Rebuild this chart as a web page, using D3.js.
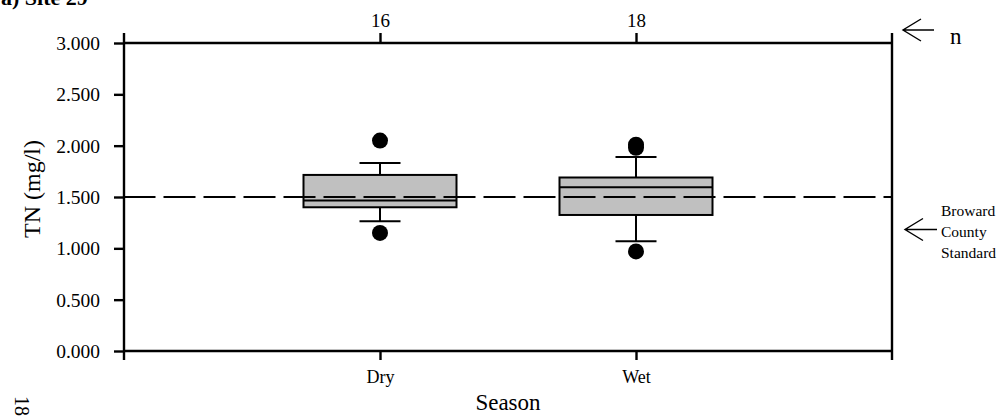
<!DOCTYPE html>
<html>
<head>
<meta charset="utf-8">
<script src="https://cdn.jsdelivr.net/npm/d3@7"></script>
<style>
  html, body { margin: 0; padding: 0; background: #fff; }
  svg { display: block; }
  text { font-family: "Liberation Serif", "Times New Roman", serif; fill: #000; }
</style>
</head>
<body>
<svg id="chart" width="1005" height="416"></svg>
<script>
// ---- data ----
const categories = ["Dry", "Wet"];
const counts = ["16", "18"];
const q1 = [1.40, 1.325];
const median = [1.465, 1.595];
const q3 = [1.715, 1.69];
const whiskerLow = [1.265, 1.07];
const whiskerHigh = [1.83, 1.89];
const outliers = [[2.05, 1.15], [2.01, 1.98, 0.97]];
const yTicks = [0, 0.5, 1.0, 1.5, 2.0, 2.5, 3.0];
const standardValue = 1.5;
const title = "a) Site 29";
const yLabel = "TN (mg/l)";
const xLabel = "Season";
const standardLabel = ["Broward", "County", "Standard"];

// ---- layout ----
const svg = d3.select("#chart");
const L = 124, R = 892, T = 43, B = 351;
const x = d3.scalePoint().domain(categories).range([L, R]).padding(1);
const y = d3.scaleLinear().domain([0, 3]).range([B, T]);
const lw = 2.4;

// title (clipped at top, as in the reference)
svg.append("text").attr("x", 1).attr("y", 5)
  .attr("font-size", 22).attr("font-weight", "bold").text(title);

// page number
svg.append("text").attr("transform", "translate(15,396) rotate(90)")
  .attr("font-size", 20).text("18");

// y axis
const yAxis = d3.axisLeft(y).tickValues(yTicks).tickSize(10).tickSizeOuter(0)
  .tickFormat(d3.format(".3f")).tickPadding(14);
const gy = svg.append("g").attr("transform", `translate(${L},0)`).call(yAxis);
gy.select(".domain").remove();
gy.selectAll(".tick line").attr("stroke", "#000").attr("stroke-width", lw);
gy.selectAll(".tick text").attr("font-size", 19.5).attr("font-family", "Liberation Serif").attr("dy", "0.34em");

// frame lines
const ext = 10;
svg.append("line").attr("x1", L).attr("x2", L).attr("y1", y(3) - ext).attr("y2", y(0) + 9)
  .attr("stroke", "#000").attr("stroke-width", lw);
svg.append("line").attr("x1", R).attr("x2", R).attr("y1", y(3) - ext).attr("y2", y(0) + 9)
  .attr("stroke", "#000").attr("stroke-width", lw);
svg.append("line").attr("x1", L).attr("x2", R).attr("y1", y(3)).attr("y2", y(3))
  .attr("stroke", "#000").attr("stroke-width", lw);
svg.append("line").attr("x1", L).attr("x2", R).attr("y1", y(0)).attr("y2", y(0))
  .attr("stroke", "#000").attr("stroke-width", lw);

// bottom axis
const xAxis = d3.axisBottom(x).tickSize(9).tickSizeOuter(0).tickPadding(10);
const gx = svg.append("g").attr("transform", `translate(0,${B})`).call(xAxis);
gx.select(".domain").remove();
gx.selectAll(".tick line").attr("stroke", "#000").attr("stroke-width", lw);
gx.selectAll(".tick text").attr("font-size", 18).attr("font-family", "Liberation Serif");

// top axis with counts
const xTop = d3.axisTop(x).tickSize(10).tickSizeOuter(0).tickPadding(6)
  .tickFormat((d, i) => counts[i]);
const gt = svg.append("g").attr("transform", `translate(0,${T})`).call(xTop);
gt.select(".domain").remove();
gt.selectAll(".tick line").attr("stroke", "#000").attr("stroke-width", lw);
gt.selectAll(".tick text").attr("font-size", 19).attr("font-family", "Liberation Serif");

// axis titles
svg.append("text").attr("transform", `translate(40,${(T + B) / 2 - 8}) rotate(-90)`)
  .attr("text-anchor", "middle").attr("font-size", 24).text(yLabel);
svg.append("text").attr("x", (L + R) / 2).attr("y", 410)
  .attr("text-anchor", "middle").attr("font-size", 23).text(xLabel);

// boxes
const boxW = 153, capW = 41;
categories.forEach((c, i) => {
  const cx = x(c);
  const g = svg.append("g");
  g.append("line").attr("x1", cx).attr("x2", cx).attr("y1", y(whiskerHigh[i])).attr("y2", y(q3[i]))
    .attr("stroke", "#000").attr("stroke-width", 2);
  g.append("line").attr("x1", cx).attr("x2", cx).attr("y1", y(q1[i])).attr("y2", y(whiskerLow[i]))
    .attr("stroke", "#000").attr("stroke-width", 2);
  [whiskerHigh[i], whiskerLow[i]].forEach(v => {
    g.append("line").attr("x1", cx - capW / 2).attr("x2", cx + capW / 2).attr("y1", y(v)).attr("y2", y(v))
      .attr("stroke", "#000").attr("stroke-width", 2);
  });
  g.append("rect").attr("x", cx - boxW / 2).attr("width", boxW)
    .attr("y", y(q3[i])).attr("height", y(q1[i]) - y(q3[i]))
    .attr("fill", "#c0c0c0").attr("stroke", "#000").attr("stroke-width", 2);
  g.append("line").attr("x1", cx - boxW / 2).attr("x2", cx + boxW / 2)
    .attr("y1", y(median[i])).attr("y2", y(median[i]))
    .attr("stroke", "#000").attr("stroke-width", 2);
  outliers[i].forEach(v => {
    g.append("circle").attr("cx", cx).attr("cy", y(v)).attr("r", 8).attr("fill", "#000");
  });
});

// standard dashed line
svg.append("line").attr("x1", L - 0.5).attr("x2", R).attr("y1", y(standardValue)).attr("y2", y(standardValue))
  .attr("stroke", "#000").attr("stroke-width", 2.2).attr("stroke-dasharray", "32,8");

// right annotations
function arrow(tipX, tipY, endX) {
  const p = d3.path();
  p.moveTo(tipX + 18, tipY - 11); p.lineTo(tipX, tipY); p.lineTo(tipX + 18, tipY + 11);
  p.moveTo(tipX, tipY); p.lineTo(endX, tipY);
  svg.append("path").attr("d", p.toString()).attr("fill", "none")
    .attr("stroke", "#000").attr("stroke-width", 1.4);
}
arrow(903, 30, 934);
svg.append("text").attr("x", 950).attr("y", 44).attr("font-size", 23).text("n");
const sy = y(standardValue) + 32.5;
arrow(905, sy, 937);
standardLabel.forEach((t, i) => {
  svg.append("text").attr("x", 941).attr("y", sy - 14 + i * 21)
    .attr("font-size", 15.5).text(t);
});
</script>
</body>
</html>
